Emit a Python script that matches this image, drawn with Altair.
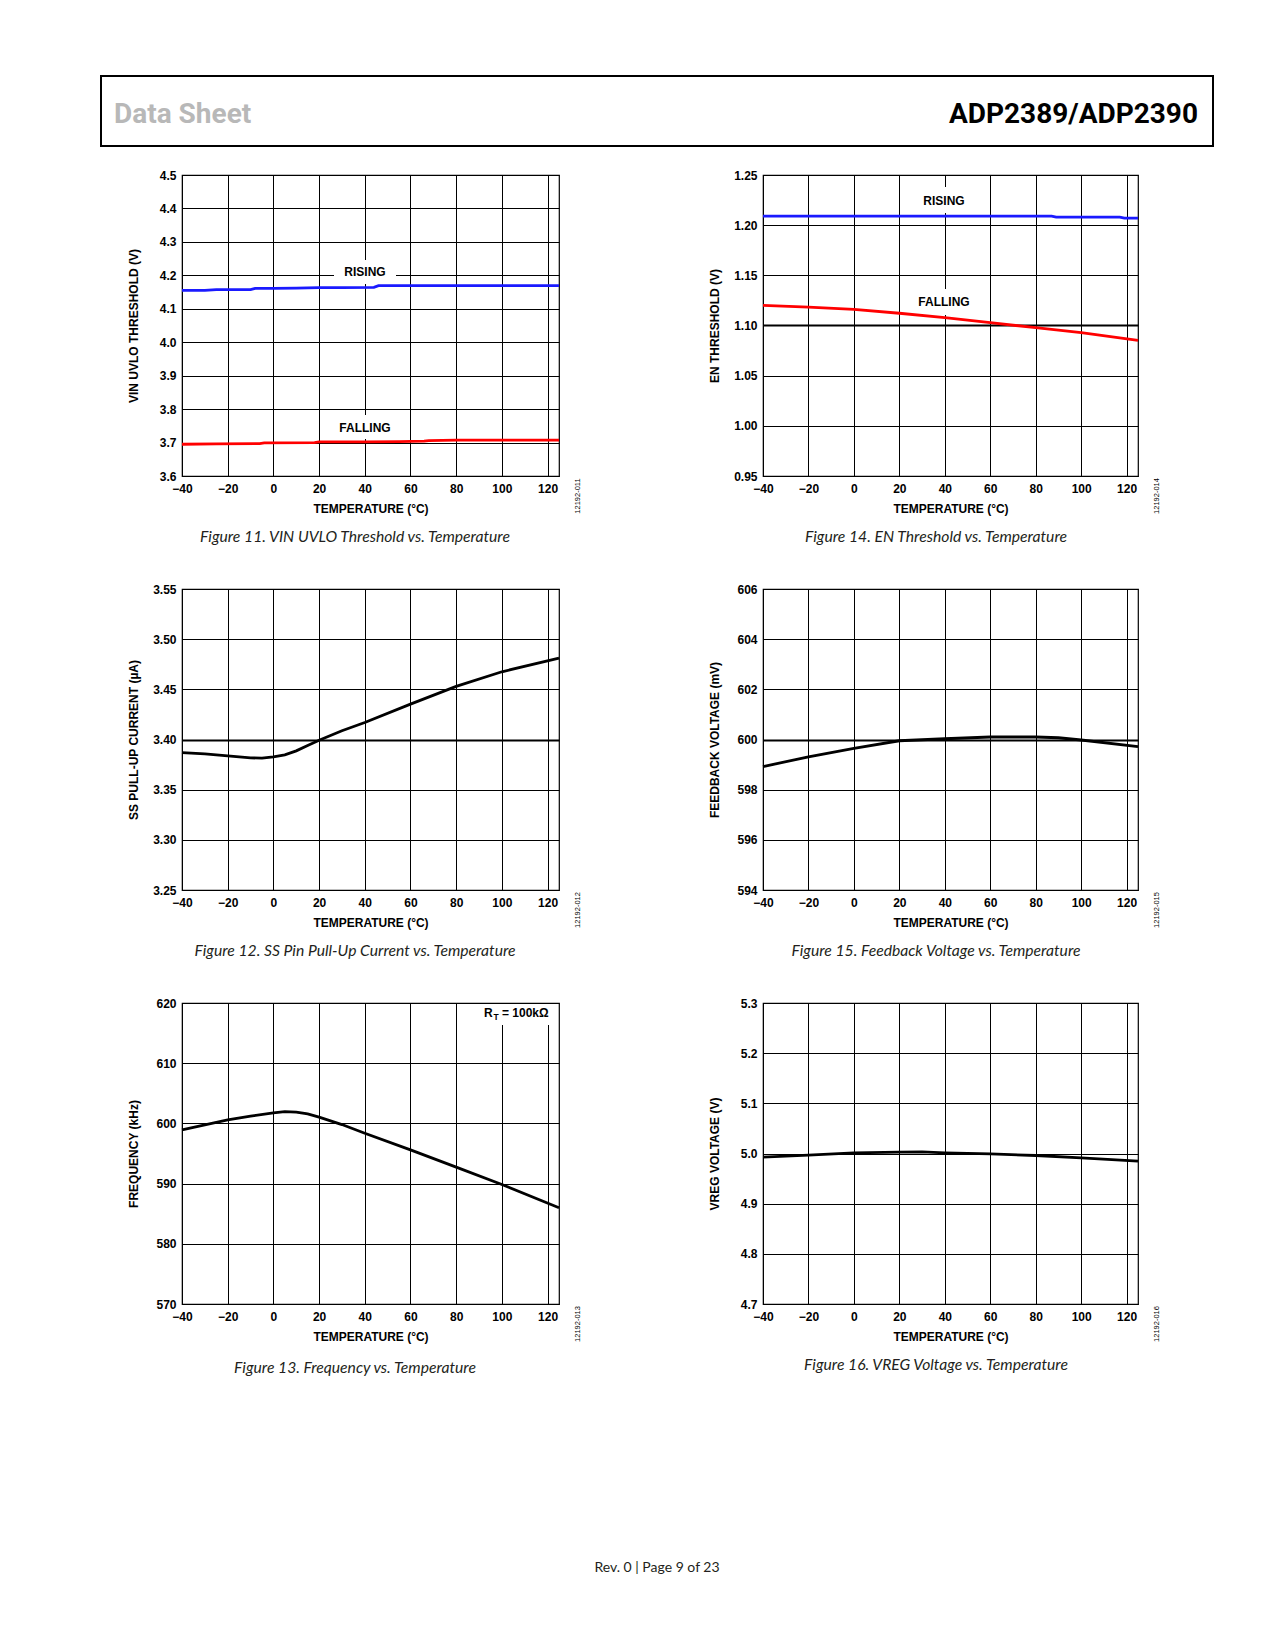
import altair as alt
import pandas as pd

# ---------------- data ----------------
TEMP_TICKS = [-40, -20, 0, 20, 40, 60, 80, 100, 120]

# Figure 11: VIN UVLO threshold (V)
uvlo_rise_t = [-40, -30, -25, -10, -8, 0, 10, 20, 30, 44, 46, 60, 80, 100, 125]
uvlo_rise_v = [4.155, 4.155, 4.157, 4.157, 4.161, 4.161, 4.162, 4.163, 4.163, 4.164, 4.169, 4.169, 4.169, 4.169, 4.169]
uvlo_fall_t = [-40, -25, -6, -4, 18, 20, 40, 55, 66, 68, 80, 100, 125]
uvlo_fall_v = [3.695, 3.696, 3.697, 3.699, 3.700, 3.702, 3.702, 3.703, 3.704, 3.706, 3.707, 3.707, 3.707]
uvlo_ticks = [3.6, 3.7, 3.8, 3.9, 4.0, 4.1, 4.2, 4.3, 4.4, 4.5]

# Figure 12: SS pull-up current (uA)
ss_t = [-40, -30, -20, -10, -5, 0, 5, 10, 15, 20, 30, 40, 60, 80, 100, 125]
ss_v = [3.387, 3.3857, 3.3837, 3.3817, 3.3814, 3.3827, 3.3847, 3.3887, 3.394, 3.3993, 3.4087, 3.417, 3.4353, 3.4529, 3.4675, 3.4812]
ss_ticks = [3.25, 3.30, 3.35, 3.40, 3.45, 3.50, 3.55]

# Figure 13: frequency (kHz)
fr_t = [-40, -20, -10, 0, 5, 10, 15, 20, 30, 40, 60, 80, 100, 125]
fr_v = [598.93, 600.59, 601.2, 601.75, 601.97, 601.86, 601.58, 601.03, 599.81, 598.37, 595.6, 592.73, 589.85, 585.98]
fr_ticks = [570, 580, 590, 600, 610, 620]

# Figure 14: EN threshold (V)
en_rise_t = [-40, 0, 40, 87, 89, 110, 117, 119, 125]
en_rise_v = [1.209, 1.209, 1.209, 1.209, 1.208, 1.208, 1.208, 1.207, 1.207]
en_fall_t = [-40, -20, 0, 20, 40, 60, 80, 100, 125]
en_fall_v = [1.1201, 1.1184, 1.1161, 1.1122, 1.1078, 1.1028, 1.0978, 1.0928, 1.0852]
en_ticks = [0.95, 1.00, 1.05, 1.10, 1.15, 1.20, 1.25]

# Figure 15: feedback voltage (mV)
fb_t = [-40, -20, 0, 20, 40, 60, 80, 90, 100, 125]
fb_v = [598.92, 599.31, 599.65, 599.95, 600.03, 600.10, 600.10, 600.07, 599.98, 599.72]
fb_ticks = [594, 596, 598, 600, 602, 604, 606]

# Figure 16: VREG voltage (V)
vr_t = [-40, -20, 0, 20, 30, 40, 60, 80, 100, 125]
vr_v = [4.9927, 4.9967, 5.0013, 5.0027, 5.0033, 5.0013, 4.9993, 4.996, 4.9914, 4.985]
vr_ticks = [4.7, 4.8, 4.9, 5.0, 5.1, 5.2, 5.3]

# ---------------- styling ----------------
AX_FONT = "Liberation Sans, Arial, Helvetica, sans-serif"
CAP_FONT = "Lato, Open Sans, sans-serif"
HEAD_FONT = "Roboto, Liberation Sans, sans-serif"
BLUE = "#1a1aff"
RED = "#ff0000"
BLACK = "#000000"
H = 301
ONE = pd.DataFrame({"k": [0]})


def note(text, x, y, size=12, weight="bold", font=AX_FONT, align="center",
         baseline="middle", color=BLACK, angle=0, style="normal"):
    kw = dict(text=text, font=font, fontSize=size, fontWeight=weight, align=align,
              baseline=baseline, color=color, fontStyle=style)
    if angle:
        kw["angle"] = angle
    return alt.Chart(ONE).mark_text(**kw).encode(x=alt.value(x), y=alt.value(y))


def white_box(x1, x2, y1, y2):
    return alt.Chart(ONE).mark_rect(color="white").encode(
        x=alt.value(x1), x2=alt.value(x2), y=alt.value(y1), y2=alt.value(y2))


def panel(series, ydom, yticks, yfmt, ytitle, fig_id, caption, W,
          thick=None, boxes=(), extras=(), cap_y=362):
    gw = 1
    if thick is not None:
        gw = {"condition": {"test": f"abs(datum.value - {thick}) < 1e-6", "value": 2.2},
              "value": 1}
    common = dict(grid=True, gridColor=BLACK, gridOpacity=1, domain=False, ticks=False,
                  tickSize=0, labelFont=AX_FONT, labelFontSize=12, labelFontWeight="bold",
                  labelColor=BLACK, labelFlush=False, labelOverlap=False,
                  titleFont=AX_FONT, titleFontSize=12, titleFontWeight="bold",
                  titleColor=BLACK, titleBaseline="middle", titleAlign="center")
    xaxis = alt.Axis(values=TEMP_TICKS, format="d", title="TEMPERATURE (°C)",
                     labelPadding=7, gridWidth=1, titleX=W / 2, titleY=32, **common)
    yaxis = alt.Axis(values=yticks, format=yfmt, title=ytitle, labelPadding=6,
                     gridWidth=gw, titleX=-49, titleY=H / 2, titleAngle=270, **common)
    lines = []
    for color, ts, vs in series:
        df = pd.DataFrame({"t": ts, "v": vs})
        lines.append(alt.Chart(df).mark_line(strokeWidth=2.8, color=color).encode(
            x=alt.X("t:Q", scale=alt.Scale(domain=[-40, 125], nice=False, zero=False),
                    axis=xaxis),
            y=alt.Y("v:Q", scale=alt.Scale(domain=ydom, nice=False, zero=False), axis=yaxis),
        ))
    layers = [white_box(*b) for b in boxes] + lines + list(extras)
    layers.append(note(fig_id, W + 19, H + 20, size=7.5, weight="normal", angle=270))
    layers.append(note(caption, 173, cap_y, size=15.7, weight="normal", font=CAP_FONT,
                       style="italic", color="#231f20"))
    return alt.layer(*layers).properties(width=W, height=H)


# header (page decoration, placed relative to the first panel)
header = [
    alt.Chart(ONE).mark_rect(fill="white", fillOpacity=0, stroke=BLACK, strokeWidth=2).encode(
        x=alt.value(-81), x2=alt.value(1031), y=alt.value(-99), y2=alt.value(-29)),
    note("Data Sheet", -68, -52, size=28, font=HEAD_FONT, align="left",
         baseline="alphabetic", color="#b8b8b8"),
    note("ADP2389/ADP2390", 1016, -52, size=28, font=HEAD_FONT, align="right",
         baseline="alphabetic"),
]

p11 = panel([(BLUE, uvlo_rise_t, uvlo_rise_v), (RED, uvlo_fall_t, uvlo_fall_v)],
            [3.6, 4.5], uvlo_ticks, ".1f", "VIN UVLO THRESHOLD (V)", "12192-011",
            "Figure 11. VIN UVLO Threshold vs. Temperature", 377,
            boxes=[(152, 214, 85, 109), (152, 214, 240, 264)],
            extras=[note("RISING", 183, 97), note("FALLING", 183, 253)] + header)

p14 = panel([(BLUE, en_rise_t, en_rise_v), (RED, en_fall_t, en_fall_v)],
            [0.95, 1.25], en_ticks, ".2f", "EN THRESHOLD (V)", "12192-014",
            "Figure 14. EN Threshold vs. Temperature", 375, thick=1.10,
            boxes=[(150, 212, 12, 38), (150, 212, 114, 140)],
            extras=[note("RISING", 181, 26), note("FALLING", 181, 127)])

p12 = panel([(BLACK, ss_t, ss_v)], [3.25, 3.55], ss_ticks, ".2f",
            "SS PULL-UP CURRENT (µA)", "12192-012",
            "Figure 12. SS Pin Pull-Up Current vs. Temperature", 377, thick=3.40)

p15 = panel([(BLACK, fb_t, fb_v)], [594, 606], fb_ticks, "d",
            "FEEDBACK VOLTAGE (mV)", "12192-015",
            "Figure 15. Feedback Voltage vs. Temperature", 375, thick=600)

footer = note("Rev. 0 | Page 9 of 23", 475, 565, size=14, weight="normal", font=CAP_FONT,
              color="#231f20")

p13 = panel([(BLACK, fr_t, fr_v)], [570, 620], fr_ticks, "d",
            "FREQUENCY (kHz)", "12192-013",
            "Figure 13. Frequency vs. Temperature", 377, cap_y=365,
            boxes=[(298, 376, 1, 22)],
            extras=[note("R", 302, 10, align="left"),
                    note("T", 311.5, 14, size=8.5, align="left"),
                    note("= 100kΩ", 320, 10, align="left"),
                    footer])

p16 = panel([(BLACK, vr_t, vr_v)], [4.7, 5.3], vr_ticks, ".1f",
            "VREG VOLTAGE (V)", "12192-016",
            "Figure 16. VREG Voltage vs. Temperature", 375)

chart = alt.concat(p11, p14, p12, p15, p13, p16, columns=2).properties(
    spacing={"row": 113, "column": 204},
    bounds="flush",
    padding={"left": 91, "top": 66, "right": 5, "bottom": 5},
).configure_view(stroke=BLACK, strokeWidth=1.2)

chart.save("out.html", embed_options={"renderer": "svg", "actions": False})
